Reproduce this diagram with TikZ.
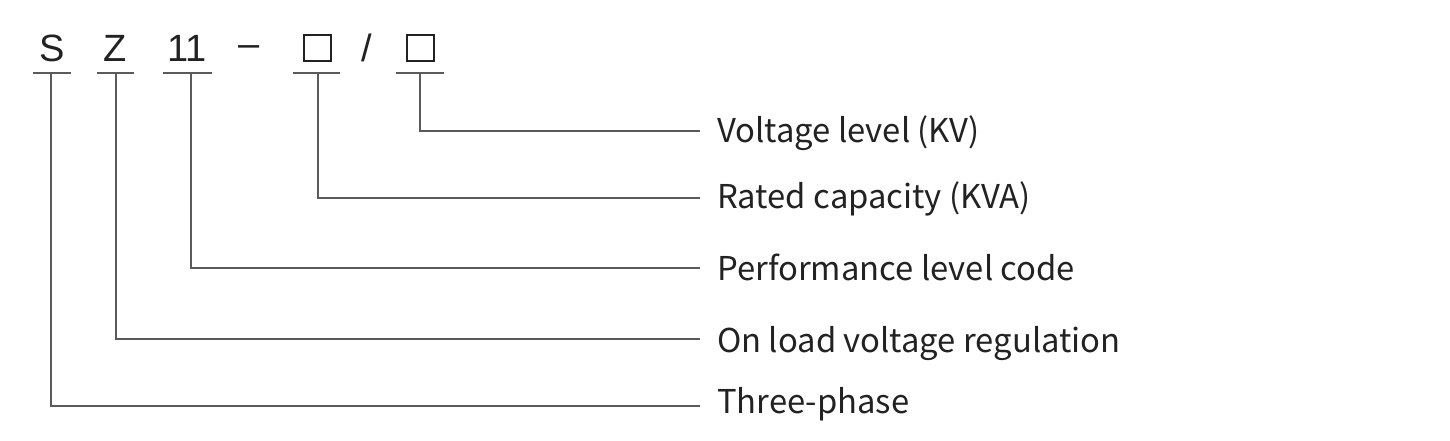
\documentclass[tikz,border=0pt]{standalone}
\usepackage{fontspec}
\setmainfont{Liberation Sans}
\newfontfamily\lblfont{Noto Sans CJK SC}
\definecolor{ink}{HTML}{222222}
\definecolor{wire}{HTML}{5A5A5A}
\begin{document}
\begin{tikzpicture}[x=1pt,y=-1pt,
  sym/.style={anchor=base,inner sep=0pt,text=ink,font=\fontsize{38}{38}\selectfont},
  lbl/.style={anchor=base west,inner sep=0pt,text=ink,font=\lblfont\fontsize{32.8}{33}\selectfont},
  uline/.style={draw=wire,line width=1.5pt},
  wirel/.style={draw=wire,line width=1.2pt},
  boxs/.style={draw=ink,line width=1.5pt}]
\useasboundingbox (0,0) rectangle (1450,440);
% top symbols
\node[sym] (S) at (52,61) {S};
\node[sym] (Z) at (115,61) {Z};
\node[sym] (N) at (187,61) {11};
\node[sym] (D) at (249,56) {–};
\draw[boxs] (304,35) rectangle (331,61) coordinate (B1);
\node[sym] (SL) at (367,61) {/};
\draw[boxs] (407,35) rectangle (434,61) coordinate (B2);
% underlines
\draw[uline] (33,73) -- (71,73);
\draw[uline] (97,73) -- (134,73);
\draw[uline] (163,73) -- (212,73);
\draw[uline] (293,73) -- (340,73);
\draw[uline] (396,73) -- (444,73);
\coordinate (uS) at (51,73);
\coordinate (uZ) at (116,73);
\coordinate (uN) at (191,73);
\coordinate (uB1) at (318,73);
\coordinate (uB2) at (420,73);
% labels
\node[lbl] (L1) at (717,142) {Voltage level (KV)};
\node[lbl] (L2) at (717,208) {Rated capacity (KVA)};
\node[lbl] (L3) at (717,280) {Performance level code};
\node[lbl] (L4) at (717,352) {On load voltage regulation};
\node[lbl] (L5) at (717,413) {Three-phase};
\coordinate (e1) at (700,131);
\coordinate (e2) at (700,198);
\coordinate (e3) at (700,268);
\coordinate (e4) at (700,339);
\coordinate (e5) at (700,406);
% connectors
\draw[wirel] (uB2) |- (e1);
\draw[wirel] (uB1) |- (e2);
\draw[wirel] (uN) |- (e3);
\draw[wirel] (uZ) |- (e4);
\draw[wirel] (uS) |- (e5);
\end{tikzpicture}
\end{document}
